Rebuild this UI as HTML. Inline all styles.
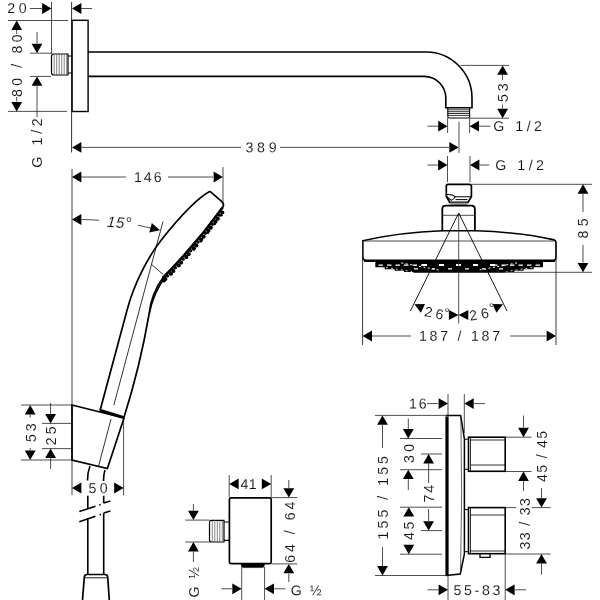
<!DOCTYPE html>
<html><head><meta charset="utf-8"><title>Dimension drawing</title>
<style>
html,body{margin:0;padding:0;background:#fff;}
svg{display:block;will-change:transform;}
text{font-family:"Liberation Sans",sans-serif;fill:#111;stroke:#fff;stroke-width:0.1px;paint-order:fill stroke;}
</style></head>
<body>
<svg width="600" height="600" viewBox="0 0 600 600">
<rect width="600" height="600" fill="#fff"/>
<text transform="translate(8,13) rotate(0.03)" font-size="14.2" x="-0.71 10.66">20</text>
<line x1="30" y1="8.5" x2="42" y2="8.5" stroke="#222" stroke-width="0.8" />
<polygon points="51.50,8.50 42.10,13.90 42.10,3.10" fill="#000"/>
<line x1="51.5" y1="2" x2="51.5" y2="54" stroke="#222" stroke-width="0.8" />
<line x1="71.6" y1="2" x2="71.6" y2="152.5" stroke="#333" stroke-width="1.0" />
<polygon points="72.00,8.50 81.40,3.10 81.40,13.90" fill="#000"/>
<line x1="81" y1="8.5" x2="92" y2="8.5" stroke="#222" stroke-width="0.8" />
<line x1="8" y1="20.5" x2="68" y2="20.5" stroke="#222" stroke-width="0.8" />
<line x1="8" y1="111.4" x2="67" y2="111.4" stroke="#222" stroke-width="0.8" />
<rect x="72.1" y="20.3" width="16" height="91.2" fill="none" stroke="#000" stroke-width="1.4"/>
<polygon points="16.70,20.50 22.10,29.90 11.30,29.90" fill="#000"/>
<polygon points="16.70,111.40 11.30,102.00 22.10,102.00" fill="#000"/>
<line x1="16.7" y1="30" x2="16.7" y2="34" stroke="#222" stroke-width="0.8" />
<line x1="16.7" y1="97" x2="16.7" y2="101.5" stroke="#222" stroke-width="0.8" />
<text transform="translate(21.8,96.3) rotate(-90)" font-size="14.2" x="-0.62 10.45 21.53 28.65 35.77 42.89 53.96">80 / 80</text>
<line x1="37" y1="32" x2="37" y2="43.5" stroke="#222" stroke-width="0.8" />
<polygon points="37.00,53.20 31.60,43.80 42.40,43.80" fill="#000"/>
<line x1="30" y1="53.2" x2="51" y2="53.2" stroke="#222" stroke-width="0.8" />
<line x1="30" y1="76.4" x2="51" y2="76.4" stroke="#222" stroke-width="0.8" />
<polygon points="37.00,76.40 42.40,85.80 31.60,85.80" fill="#000"/>
<line x1="37" y1="85.5" x2="37" y2="117" stroke="#222" stroke-width="0.8" />
<text transform="translate(41.6,167) rotate(-90)" font-size="14.2" x="-0.71 14.01 21.63 33.20 40.82">G 1/2</text>
<path d="M68,54 H54 Q51.5,54 51.5,56.5 V72.5 Q51.5,75 54,75 H68 Z" stroke="#000" stroke-width="1.2" fill="none" />
<line x1="54.2" y1="54.5" x2="54.2" y2="74.5" stroke="#333" stroke-width="0.6" />
<line x1="56.7" y1="54.5" x2="56.7" y2="74.5" stroke="#333" stroke-width="0.6" />
<line x1="59.2" y1="54.5" x2="59.2" y2="74.5" stroke="#333" stroke-width="0.6" />
<line x1="61.7" y1="54.5" x2="61.7" y2="74.5" stroke="#333" stroke-width="0.6" />
<line x1="64.2" y1="54.5" x2="64.2" y2="74.5" stroke="#333" stroke-width="0.6" />
<line x1="66.7" y1="54.5" x2="66.7" y2="74.5" stroke="#333" stroke-width="0.6" />
<path d="M68,56 H72 M68,73 H72" stroke="#000" stroke-width="1.2" fill="none" />
<path d="M88,52 H426 A46,46 0 0 1 472,98 V107.8 H445.8 V98 A21.6,21.6 0 0 0 424.2,76.4 H88" stroke="#000" stroke-width="1.6" fill="none" />
<path d="M447.8,107.8 V116.6 Q447.8,118 449.2,118 H468.2 Q469.6,118 469.6,116.6 V107.8" stroke="#000" stroke-width="1.1" fill="none" />
<line x1="447.8" y1="109.8" x2="469.6" y2="109.8" stroke="#000" stroke-width="0.8" />
<line x1="447.8" y1="111.7" x2="469.6" y2="111.7" stroke="#000" stroke-width="0.8" />
<line x1="447.8" y1="113.5" x2="469.6" y2="113.5" stroke="#000" stroke-width="0.8" />
<line x1="447.8" y1="115.4" x2="469.6" y2="115.4" stroke="#000" stroke-width="0.8" />
<line x1="460.5" y1="65.4" x2="509" y2="65.4" stroke="#222" stroke-width="0.8" />
<line x1="469.6" y1="118.2" x2="509" y2="118.2" stroke="#222" stroke-width="0.8" />
<polygon points="502.60,65.40 508.00,74.80 497.20,74.80" fill="#000"/>
<polygon points="502.60,118.20 497.20,108.80 508.00,108.80" fill="#000"/>
<line x1="502.5" y1="75" x2="502.5" y2="80" stroke="#222" stroke-width="0.8" />
<line x1="502.5" y1="104.5" x2="502.5" y2="108.5" stroke="#222" stroke-width="0.8" />
<text transform="translate(508,101.5) rotate(-90)" font-size="14.2" x="-0.57 10.23">53</text>
<line x1="427.5" y1="126.2" x2="438" y2="126.2" stroke="#222" stroke-width="0.8" />
<polygon points="447.60,126.20 438.20,131.60 438.20,120.80" fill="#000"/>
<polygon points="469.60,126.20 479.00,120.80 479.00,131.60" fill="#000"/>
<line x1="479" y1="126.2" x2="490.5" y2="126.2" stroke="#222" stroke-width="0.8" />
<line x1="447.6" y1="118" x2="447.6" y2="133" stroke="#222" stroke-width="0.8" />
<line x1="469.6" y1="118" x2="469.6" y2="133" stroke="#222" stroke-width="0.8" />
<text transform="translate(494,131) rotate(0.03)" font-size="14.2" x="-0.71 13.83 21.28 32.67 40.12">G 1/2</text>
<line x1="459" y1="121.7" x2="459" y2="153" stroke="#222" stroke-width="0.8" />
<polygon points="72.00,147.40 81.40,142.00 81.40,152.80" fill="#000"/>
<polygon points="458.70,147.40 449.30,152.80 449.30,142.00" fill="#000"/>
<line x1="81" y1="147.4" x2="241" y2="147.4" stroke="#222" stroke-width="0.8" />
<line x1="280" y1="147.4" x2="449" y2="147.4" stroke="#222" stroke-width="0.8" />
<text transform="translate(246,152.2) rotate(0.03)" font-size="14.2" x="-0.54 11.12 22.78">389</text>
<line x1="427.5" y1="165" x2="438" y2="165" stroke="#222" stroke-width="0.8" />
<polygon points="447.50,165.00 438.10,170.40 438.10,159.60" fill="#000"/>
<polygon points="470.00,165.00 479.40,159.60 479.40,170.40" fill="#000"/>
<line x1="479.5" y1="165" x2="489.3" y2="165" stroke="#222" stroke-width="0.8" />
<line x1="447.5" y1="156" x2="447.5" y2="182" stroke="#222" stroke-width="0.8" />
<line x1="470" y1="156" x2="470" y2="182" stroke="#222" stroke-width="0.8" />
<text transform="translate(496,170) rotate(0.03)" font-size="14.2" x="-0.71 13.83 21.28 32.67 40.12">G 1/2</text>
<line x1="472" y1="184.3" x2="592" y2="184.3" stroke="#222" stroke-width="0.8" />
<path d="M448,184.3 H469.7 Q471.4,184.3 471.4,186 V196.6 L467.9,202.4 H449.8 L446.3,196.6 V186 Q446.3,184.3 448,184.3 Z" stroke="#000" stroke-width="1.7" fill="none" />
<path d="M455,196.8 H471 M455.5,199.6 H467.5" stroke="#000" stroke-width="1.0" fill="none" />
<path d="M446.8,194.6 Q452,194.2 455.2,196.6 Q454,199.5 451.4,200.2 Q448.5,199 447,196.2" stroke="#000" stroke-width="1.1" fill="none" />
<rect x="450.4" y="202.6" width="17" height="2.4" fill="#999"/>
<path d="M442.3,231.2 V209 Q442.3,205.6 445.8,205.6 H471.4 Q474.9,205.6 474.9,209 V231.2" stroke="#000" stroke-width="1.8" fill="none" />
<line x1="442.3" y1="215.3" x2="474.9" y2="215.3" stroke="#222" stroke-width="0.8" />
<path d="M362.8,240.8 Q400,232.3 442,230.8 H476 Q520,232.3 553,239.6 Q556,240.4 556,243 V257 Q556,261.2 551,261.2 H368 Q362.8,261.2 362.8,256 Z" stroke="#000" stroke-width="1.6" fill="none" />
<line x1="364" y1="260.8" x2="555" y2="260.8" stroke="#000" stroke-width="2.4" />
<line x1="363" y1="241" x2="554" y2="241" stroke="#222" stroke-width="0.8" />
<polygon points="375.3,261.5 375.3,267.3 384.7,267.3 384.7,269.3 394.7,269.3 394.7,270.7 404.0,270.7 404.0,272.0 413.3,272.0 413.3,272.8 505.0,272.8 505.0,272.0 514.3,272.0 514.3,270.7 523.6,270.7 523.6,269.3 533.6,269.3 533.6,267.3 543.0,267.3 543.0,261.5" fill="#000"/>
<path d="M378.5,265.2 H426" stroke="#fff" stroke-width="1.2" fill="none" stroke-dasharray="4.5 4"/>
<path d="M422,265 H497" stroke="#fff" stroke-width="2.0" fill="none" stroke-dasharray="5 12"/>
<path d="M540,265.2 H492" stroke="#fff" stroke-width="1.2" fill="none" stroke-dasharray="4.5 4"/>
<path d="M414,268.8 H504" stroke="#fff" stroke-width="1.2" fill="none" stroke-dasharray="4 13"/>
<path d="M401.3,262.9 L440,270.2" stroke="#fff" stroke-width="1.0" fill="none" stroke-dasharray="2 2.5"/>
<path d="M517,262.9 L478.3,270.2" stroke="#fff" stroke-width="1.0" fill="none" stroke-dasharray="2 2.5"/>
<path d="M386,267.5 L412,271.5" stroke="#fff" stroke-width="0.8" fill="none" stroke-dasharray="2 3"/>
<path d="M532.3,267.5 L506.3,271.5" stroke="#fff" stroke-width="0.8" fill="none" stroke-dasharray="2 3"/>
<line x1="458.7" y1="213" x2="410.4" y2="311" stroke="#000" stroke-width="0.9" />
<line x1="458.7" y1="213" x2="507" y2="311" stroke="#000" stroke-width="0.9" />
<line x1="458.7" y1="213" x2="458.7" y2="323.5" stroke="#222" stroke-width="0.8" />
<line x1="505" y1="272.3" x2="592" y2="272.3" stroke="#222" stroke-width="0.8" />
<polygon points="583.00,184.30 588.40,193.70 577.60,193.70" fill="#000"/>
<polygon points="583.00,272.30 577.60,262.90 588.40,262.90" fill="#000"/>
<line x1="583" y1="194" x2="583" y2="212" stroke="#222" stroke-width="0.8" />
<line x1="583" y1="245" x2="583" y2="262.5" stroke="#222" stroke-width="0.8" />
<text transform="translate(588,238) rotate(-90)" font-size="14.2" x="-0.62 11.70">85</text>
<polygon points="414.40,304.20 425.02,304.11 420.85,312.64" fill="#000"/>
<polygon points="503.00,304.20 496.55,312.64 492.38,304.11" fill="#000"/>
<polygon points="458.60,315.00 448.90,320.00 448.90,310.00" fill="#000"/>
<polygon points="458.60,315.00 468.30,310.00 468.30,320.00" fill="#000"/>
<text transform="translate(424.4,316.2) rotate(11)" font-size="14.2" x="-0.71 10.63">26</text>
<text transform="translate(471,320.7) rotate(-10)" font-size="14.2" x="-0.71 11.03">26</text>
<text x="444.16" y="318.24" font-size="14.2">°</text>
<text x="488.76" y="313.14" font-size="14.2">°</text>
<line x1="362.6" y1="241" x2="362.6" y2="345" stroke="#222" stroke-width="0.9" />
<line x1="556" y1="243" x2="556" y2="345" stroke="#222" stroke-width="0.9" />
<polygon points="362.60,336.00 372.00,330.60 372.00,341.40" fill="#000"/>
<polygon points="556.00,336.00 546.60,341.40 546.60,330.60" fill="#000"/>
<line x1="372" y1="336" x2="411" y2="336" stroke="#222" stroke-width="0.8" />
<line x1="510" y1="336" x2="546" y2="336" stroke="#222" stroke-width="0.8" />
<text transform="translate(420,340.7) rotate(0.03)" font-size="14.2" x="-1.08 9.56 20.21 30.85 37.54 44.24 50.93 61.57 72.22">187 / 187</text>
<line x1="72" y1="169" x2="72" y2="495" stroke="#444" stroke-width="1.0" />
<polygon points="72.00,177.00 81.40,171.60 81.40,182.40" fill="#000"/>
<polygon points="223.00,177.00 213.60,182.40 213.60,171.60" fill="#000"/>
<line x1="81" y1="177" x2="126" y2="177" stroke="#222" stroke-width="0.8" />
<line x1="168" y1="177" x2="213" y2="177" stroke="#222" stroke-width="0.8" />
<line x1="223" y1="167" x2="223" y2="202" stroke="#222" stroke-width="0.8" />
<text transform="translate(135,182) rotate(0.03)" font-size="14.2" x="-1.08 8.82 18.73">146</text>
<polygon points="72.00,219.50 81.40,214.10 81.40,224.90" fill="#000"/>
<path d="M81,219.5 Q91,219.6 99,220.3" stroke="#222" stroke-width="0.8" fill="none" />
<path d="M138,225.2 L151,228.2" stroke="#222" stroke-width="0.8" fill="none" />
<polygon points="160.00,230.30 149.24,232.59 151.83,222.93" fill="#000"/>
<text transform="translate(107,226.8) rotate(4.5)" font-size="15.3" x="-0.40 8.65" font-style="italic">15</text>
<text x="125.80" y="229.14" font-size="16">°</text>
<line x1="163" y1="221.5" x2="113.8" y2="405.3" stroke="#000" stroke-width="0.8" />
<line x1="111" y1="419" x2="98.6" y2="466" stroke="#000" stroke-width="0.8" />
<line x1="151.6" y1="264.5" x2="163.3" y2="274.6" stroke="#000" stroke-width="0.8" />
<path d="M210,191.3 C195,199.3 173.7,224.4 161.3,240 C147.7,257.2 134,284.3 127.3,309.3 L100,410.7" stroke="#000" stroke-width="1.7" fill="none" />
<path d="M210,191.3 L221.3,201.2 Q224.6,204 222.8,207.2 Q195.8,244.5 163.3,277.3 C154.9,288.5 150.5,300 149,314.5 Q140,366.8 124,417.3" stroke="#000" stroke-width="1.7" fill="none" />
<path d="M222.8,207.2 Q195.8,244.5 163.3,277.3" stroke="#000" stroke-width="2.4" fill="none" />
<path d="M165.6,276.5 C157,288 152,300 149.4,313.5" stroke="#000" stroke-width="1.4" fill="none" />
<circle cx="222.26" cy="212.52" r="2.1" fill="#000"/>
<circle cx="219.43" cy="215.17" r="1.6" fill="#000"/>
<circle cx="217.70" cy="218.63" r="2.1" fill="#000"/>
<circle cx="215.39" cy="221.67" r="2.1" fill="#000"/>
<circle cx="212.52" cy="224.26" r="1.6" fill="#000"/>
<circle cx="210.72" cy="227.69" r="2.1" fill="#000"/>
<circle cx="208.36" cy="230.68" r="2.1" fill="#000"/>
<circle cx="205.43" cy="233.21" r="1.6" fill="#000"/>
<circle cx="203.58" cy="236.61" r="2.1" fill="#000"/>
<circle cx="201.15" cy="239.55" r="2.1" fill="#000"/>
<circle cx="198.18" cy="242.03" r="1.6" fill="#000"/>
<circle cx="196.26" cy="245.39" r="2.1" fill="#000"/>
<circle cx="193.78" cy="248.28" r="2.1" fill="#000"/>
<circle cx="190.76" cy="250.70" r="1.6" fill="#000"/>
<circle cx="188.77" cy="254.03" r="2.1" fill="#000"/>
<circle cx="186.24" cy="256.88" r="2.1" fill="#000"/>
<circle cx="183.17" cy="259.24" r="1.6" fill="#000"/>
<circle cx="181.12" cy="262.53" r="2.1" fill="#000"/>
<circle cx="178.53" cy="265.33" r="2.1" fill="#000"/>
<circle cx="175.41" cy="267.64" r="1.6" fill="#000"/>
<circle cx="173.29" cy="270.89" r="2.1" fill="#000"/>
<circle cx="170.65" cy="273.65" r="2.1" fill="#000"/>
<circle cx="167.48" cy="275.90" r="1.6" fill="#000"/>
<circle cx="165.32" cy="279.10" r="2.1" fill="#000"/>
<circle cx="163.94" cy="280.49" r="2.1" fill="#000"/>
<circle cx="221.33" cy="215.29" r="1.3" fill="#000"/>
<circle cx="214.70" cy="224.05" r="1.3" fill="#000"/>
<circle cx="207.91" cy="232.69" r="1.3" fill="#000"/>
<circle cx="200.96" cy="241.19" r="1.3" fill="#000"/>
<circle cx="193.86" cy="249.57" r="1.3" fill="#000"/>
<circle cx="186.60" cy="257.82" r="1.3" fill="#000"/>
<circle cx="179.19" cy="265.95" r="1.3" fill="#000"/>
<circle cx="171.62" cy="273.94" r="1.3" fill="#000"/>
<circle cx="163.30" cy="277.30" r="1.3" fill="#000"/>
<path d="M72,405 L124,418 L107.4,468.6 L72,460 Z" stroke="#000" stroke-width="1.7" fill="none" />
<line x1="99.6" y1="410.3" x2="124" y2="417.6" stroke="#000" stroke-width="3.0" />
<path d="M90,466 Q87.6,472 87.5,480.5 M87.8,495.8 V508" stroke="#000" stroke-width="1.6" fill="none" />
<path d="M105,470 Q103.4,475 103.5,481 M103.7,495.8 V503" stroke="#000" stroke-width="1.6" fill="none" />
<path d="M87.8,518 V574 M103.7,513.2 V574" stroke="#000" stroke-width="1.6" fill="none" />
<path d="M79.3,511.6 L95.5,506.2 M99.2,504.9 L100.6,504.4 M103.6,503 L110.4,501" stroke="#000" stroke-width="1.6" fill="none" />
<path d="M79.3,521.7 L95.5,516.3 M99.6,514.9 L101,514.4 M103.6,513 L110.4,511" stroke="#000" stroke-width="1.6" fill="none" />
<path d="M82.5,600 L84.3,577 Q84.5,574.5 87,574.5 H105 Q107.5,574.5 107.7,577 L109.3,600" stroke="#000" stroke-width="1.7" fill="none" />
<line x1="84.5" y1="577.8" x2="107.5" y2="577.8" stroke="#000" stroke-width="0.9" />
<line x1="21" y1="405" x2="72" y2="405" stroke="#222" stroke-width="0.8" />
<line x1="21" y1="460" x2="72" y2="460" stroke="#222" stroke-width="0.8" />
<polygon points="30.20,405.00 35.60,414.40 24.80,414.40" fill="#000"/>
<polygon points="30.20,460.00 24.80,450.60 35.60,450.60" fill="#000"/>
<line x1="30.2" y1="414.5" x2="30.2" y2="417.5" stroke="#222" stroke-width="0.8" />
<line x1="30.2" y1="448" x2="30.2" y2="450.5" stroke="#222" stroke-width="0.8" />
<text transform="translate(36,441.4) rotate(-90)" font-size="14.2" x="-0.57 10.13">53</text>
<line x1="42" y1="423.4" x2="72" y2="423.4" stroke="#222" stroke-width="0.8" />
<line x1="42" y1="448.6" x2="72" y2="448.6" stroke="#222" stroke-width="0.8" />
<line x1="50.6" y1="403" x2="50.6" y2="414" stroke="#222" stroke-width="0.8" />
<polygon points="50.60,423.40 45.20,414.00 56.00,414.00" fill="#000"/>
<polygon points="50.60,448.60 56.00,458.00 45.20,458.00" fill="#000"/>
<line x1="50.6" y1="458" x2="50.6" y2="469" stroke="#222" stroke-width="0.8" />
<text transform="translate(56,444.6) rotate(-90)" font-size="14.2" x="-0.71 10.30">25</text>
<line x1="123.6" y1="418" x2="123.6" y2="495.5" stroke="#222" stroke-width="0.8" />
<polygon points="72.00,488.00 81.40,482.60 81.40,493.40" fill="#000"/>
<polygon points="123.60,488.00 114.20,493.40 114.20,482.60" fill="#000"/>
<text transform="translate(89,493) rotate(0.03)" font-size="14.2" x="-0.57 10.66">50</text>
<line x1="229.2" y1="475" x2="229.2" y2="497" stroke="#222" stroke-width="0.8" />
<line x1="271.2" y1="475" x2="271.2" y2="497" stroke="#222" stroke-width="0.8" />
<polygon points="229.20,483.90 238.60,478.50 238.60,489.30" fill="#000"/>
<polygon points="271.20,483.90 261.80,489.30 261.80,478.50" fill="#000"/>
<text transform="translate(240.8,489.1) rotate(0.03)" font-size="14.2" x="-0.33 8.00">41</text>
<rect x="229.4" y="497.8" width="41.8" height="65.8" rx="1.5" fill="none" stroke="#000" stroke-width="1.7"/>
<path d="M241.3,563.8 H264.3 V565.5 Q264.3,567.6 262.2,567.6 H243.4 Q241.3,567.6 241.3,565.5 Z" stroke="#000" stroke-width="0.5" fill="#000" />
<path d="M224,520.3 H211.5 Q209.5,520.3 209.5,522.3 V540 Q209.5,542 211.5,542 H224 Z" stroke="#000" stroke-width="1.2" fill="none" />
<line x1="212.3" y1="520.8" x2="212.3" y2="541.5" stroke="#333" stroke-width="0.6" />
<line x1="214.8" y1="520.8" x2="214.8" y2="541.5" stroke="#333" stroke-width="0.6" />
<line x1="217.3" y1="520.8" x2="217.3" y2="541.5" stroke="#333" stroke-width="0.6" />
<line x1="219.8" y1="520.8" x2="219.8" y2="541.5" stroke="#333" stroke-width="0.6" />
<line x1="222.3" y1="520.8" x2="222.3" y2="541.5" stroke="#333" stroke-width="0.6" />
<path d="M224,522 H229 M224,540.3 H229" stroke="#000" stroke-width="1.2" fill="none" />
<line x1="185.3" y1="520.1" x2="209.5" y2="520.1" stroke="#222" stroke-width="0.8" />
<line x1="185.3" y1="542" x2="209.5" y2="542" stroke="#222" stroke-width="0.8" />
<line x1="193.4" y1="504" x2="193.4" y2="510.5" stroke="#222" stroke-width="0.8" />
<polygon points="193.40,520.10 188.00,510.70 198.80,510.70" fill="#000"/>
<polygon points="193.40,542.00 198.80,551.40 188.00,551.40" fill="#000"/>
<line x1="193.4" y1="551.5" x2="193.4" y2="562" stroke="#222" stroke-width="0.8" />
<text transform="translate(199.2,596.7) rotate(-90)" font-size="14.2" x="-0.71 12.16 17.94">G ½</text>
<line x1="271.2" y1="497.6" x2="297.3" y2="497.6" stroke="#222" stroke-width="0.8" />
<line x1="271.2" y1="563.9" x2="297.3" y2="563.9" stroke="#222" stroke-width="0.8" />
<line x1="288.8" y1="480" x2="288.8" y2="488" stroke="#222" stroke-width="0.8" />
<polygon points="288.80,497.60 283.40,488.20 294.20,488.20" fill="#000"/>
<polygon points="288.80,563.90 294.20,573.30 283.40,573.30" fill="#000"/>
<line x1="288.8" y1="573.5" x2="288.8" y2="582" stroke="#222" stroke-width="0.8" />
<text transform="translate(295.3,562) rotate(-90)" font-size="14.2" x="-0.72 10.13 20.98 27.87 34.77 41.67 52.52">64 / 64</text>
<line x1="241.7" y1="567" x2="241.7" y2="600" stroke="#222" stroke-width="0.8" />
<line x1="264.6" y1="567" x2="264.6" y2="600" stroke="#222" stroke-width="0.8" />
<line x1="221.3" y1="588.8" x2="232" y2="588.8" stroke="#222" stroke-width="0.8" />
<polygon points="241.70,588.80 232.30,594.20 232.30,583.40" fill="#000"/>
<polygon points="264.60,588.80 274.00,583.40 274.00,594.20" fill="#000"/>
<line x1="274.3" y1="588.8" x2="285.3" y2="588.8" stroke="#222" stroke-width="0.8" />
<text transform="translate(291.5,595.2) rotate(0.03)" font-size="14.2" x="-0.71 12.36 18.34">G ½</text>
<text transform="translate(410,408.4) rotate(0.03)" font-size="14.2" x="-1.08 8.73">16</text>
<line x1="427" y1="403.6" x2="438.5" y2="403.6" stroke="#222" stroke-width="0.8" />
<polygon points="448.00,403.60 438.60,409.00 438.60,398.20" fill="#000"/>
<polygon points="464.30,403.60 473.70,398.20 473.70,409.00" fill="#000"/>
<line x1="474" y1="403.6" x2="485" y2="403.6" stroke="#222" stroke-width="0.8" />
<line x1="448" y1="394" x2="448" y2="415" stroke="#222" stroke-width="0.8" />
<line x1="464.3" y1="394" x2="464.3" y2="433" stroke="#222" stroke-width="0.8" />
<line x1="447" y1="416.5" x2="447" y2="575.3" stroke="#000" stroke-width="3.2" />
<path d="M446,415.6 H460.7 L464.4,439 V554 L460.3,574 L446,575.4" stroke="#000" stroke-width="1.5" fill="none" />
<path d="M460.9,417 Q462.6,495 460.5,573.5" stroke="#222" stroke-width="0.7" fill="none" />
<rect x="468.5" y="437.2" width="36.7" height="34.10000000000002" fill="none" stroke="#000" stroke-width="1.6"/>
<line x1="470.5" y1="440" x2="505" y2="440" stroke="#000" stroke-width="0.8" />
<line x1="470.5" y1="465" x2="505" y2="465" stroke="#000" stroke-width="0.8" />
<line x1="470.5" y1="437.2" x2="470.5" y2="471.3" stroke="#000" stroke-width="0.8" />
<path d="M465,439.2 H468.5 M465,469.3 H468.5" stroke="#000" stroke-width="1.0" fill="none" />
<rect x="468.5" y="507.6" width="36.7" height="46.10000000000002" fill="none" stroke="#000" stroke-width="1.6"/>
<line x1="470.5" y1="515" x2="505" y2="515" stroke="#000" stroke-width="0.8" />
<line x1="470.5" y1="551" x2="505" y2="551" stroke="#000" stroke-width="0.8" />
<line x1="470.5" y1="507.6" x2="470.5" y2="553.7" stroke="#000" stroke-width="0.8" />
<path d="M465,509.6 H468.5 M465,551.7 H468.5" stroke="#000" stroke-width="1.0" fill="none" />
<path d="M480,554 V557.3 H490 V554" stroke="#000" stroke-width="1.3" fill="none" />
<line x1="375" y1="415.4" x2="448" y2="415.4" stroke="#222" stroke-width="0.8" />
<line x1="375" y1="575.5" x2="446" y2="575.5" stroke="#222" stroke-width="0.8" />
<polygon points="382.50,415.40 387.90,424.80 377.10,424.80" fill="#000"/>
<polygon points="382.50,575.50 377.10,566.10 387.90,566.10" fill="#000"/>
<line x1="382.5" y1="425" x2="382.5" y2="448" stroke="#222" stroke-width="0.8" />
<line x1="382.5" y1="547" x2="382.5" y2="566" stroke="#222" stroke-width="0.8" />
<text transform="translate(388,538.3) rotate(-90)" font-size="14.2" x="-1.08 9.84 20.75 31.67 38.63 45.60 52.56 63.48 74.40">155 / 155</text>
<line x1="400" y1="438.5" x2="442" y2="438.5" stroke="#222" stroke-width="0.8" />
<line x1="400" y1="469.7" x2="442" y2="469.7" stroke="#222" stroke-width="0.8" />
<line x1="408.3" y1="418.5" x2="408.3" y2="429" stroke="#222" stroke-width="0.8" />
<polygon points="408.30,438.50 402.90,429.10 413.70,429.10" fill="#000"/>
<polygon points="408.30,469.70 413.70,479.10 402.90,479.10" fill="#000"/>
<line x1="408.3" y1="479" x2="408.3" y2="490" stroke="#222" stroke-width="0.8" />
<text transform="translate(413.6,462.5) rotate(-90)" font-size="14.2" x="-0.54 10.76">30</text>
<line x1="421" y1="454" x2="442" y2="454" stroke="#222" stroke-width="0.8" />
<line x1="421" y1="530.6" x2="442" y2="530.6" stroke="#222" stroke-width="0.8" />
<polygon points="428.60,454.00 434.00,463.40 423.20,463.40" fill="#000"/>
<line x1="428.6" y1="463.5" x2="428.6" y2="483" stroke="#222" stroke-width="0.8" />
<line x1="428.6" y1="509" x2="428.6" y2="521" stroke="#222" stroke-width="0.8" />
<polygon points="428.60,530.60 423.20,521.20 434.00,521.20" fill="#000"/>
<text transform="translate(433.6,501.8) rotate(-90)" font-size="14.2" x="-0.73 9.12">74</text>
<line x1="400" y1="507.2" x2="442" y2="507.2" stroke="#222" stroke-width="0.8" />
<line x1="400" y1="554.2" x2="442" y2="554.2" stroke="#222" stroke-width="0.8" />
<polygon points="408.80,507.20 414.20,516.60 403.40,516.60" fill="#000"/>
<polygon points="408.80,554.20 403.40,544.80 414.20,544.80" fill="#000"/>
<text transform="translate(413.8,539.7) rotate(-90)" font-size="14.2" x="-0.33 10.20">45</text>
<line x1="505" y1="437.2" x2="531.5" y2="437.2" stroke="#222" stroke-width="0.8" />
<line x1="505" y1="471.5" x2="531.5" y2="471.5" stroke="#222" stroke-width="0.8" />
<line x1="523.5" y1="415.5" x2="523.5" y2="427.5" stroke="#222" stroke-width="0.8" />
<polygon points="523.50,437.20 518.10,427.80 528.90,427.80" fill="#000"/>
<polygon points="523.50,471.50 528.90,480.90 518.10,480.90" fill="#000"/>
<line x1="523.5" y1="481" x2="523.5" y2="491" stroke="#222" stroke-width="0.8" />
<text transform="translate(547.2,481.6) rotate(-90)" font-size="14.2" x="-0.33 8.85 18.03 23.26 28.49 33.72 42.90">45 / 45</text>
<line x1="505" y1="507.6" x2="516" y2="507.6" stroke="#222" stroke-width="0.8" />
<line x1="532" y1="507.6" x2="550.5" y2="507.6" stroke="#222" stroke-width="0.8" />
<line x1="505" y1="554" x2="550.5" y2="554" stroke="#222" stroke-width="0.8" />
<line x1="541.5" y1="488" x2="541.5" y2="498" stroke="#222" stroke-width="0.8" />
<polygon points="541.50,507.60 536.10,498.20 546.90,498.20" fill="#000"/>
<polygon points="541.50,554.00 546.90,563.40 536.10,563.40" fill="#000"/>
<line x1="541.5" y1="563.5" x2="541.5" y2="574.7" stroke="#222" stroke-width="0.8" />
<text transform="translate(529.7,549) rotate(-90)" font-size="14.2" x="-0.54 8.70 17.93 23.22 28.50 33.79 43.03">33 / 33</text>
<line x1="448" y1="576" x2="448" y2="600" stroke="#222" stroke-width="0.8" />
<line x1="505.2" y1="554" x2="505.2" y2="600" stroke="#222" stroke-width="0.8" />
<line x1="427.5" y1="589.8" x2="438.5" y2="589.8" stroke="#222" stroke-width="0.8" />
<polygon points="448.00,589.80 438.60,595.20 438.60,584.40" fill="#000"/>
<polygon points="505.20,589.80 514.60,584.40 514.60,595.20" fill="#000"/>
<line x1="515" y1="589.8" x2="526" y2="589.8" stroke="#222" stroke-width="0.8" />
<text transform="translate(454,595) rotate(0.03)" font-size="14.2" x="-0.57 10.00 20.56 27.96 38.53">55-83</text>
</svg>
</body></html>
